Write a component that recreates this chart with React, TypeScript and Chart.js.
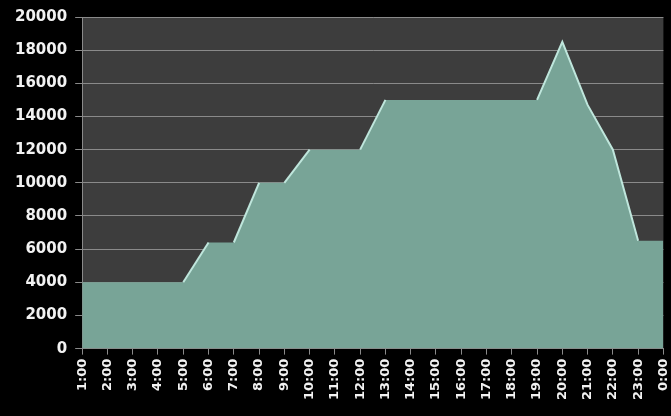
import React, { useEffect, useRef } from "react";
import { Chart, registerables } from "chart.js";

Chart.register(...registerables);

const hours = [
  "1:00", "2:00", "3:00", "4:00", "5:00", "6:00", "7:00", "8:00", "9:00", "10:00",
  "11:00", "12:00", "13:00", "14:00", "15:00", "16:00", "17:00", "18:00", "19:00",
  "20:00", "21:00", "22:00", "23:00", "0:00",
];
const values = [
  4000, 4000, 4000, 4000, 4000, 6400, 6400, 10000, 10000, 12000,
  12000, 12000, 15000, 15000, 15000, 15000, 15000, 15000, 15000,
  18500, 14700, 12000, 6500, 6500,
];
const yMin = 0;
const yMax = 20000;
const yStep = 2000;

const plotBg = {
  id: "plotBg",
  beforeDraw(chart: any) {
    const { ctx, chartArea } = chart;
    if (!chartArea) return;
    ctx.save();
    ctx.fillStyle = "#3d3d3d";
    ctx.fillRect(chartArea.left, chartArea.top, chartArea.right - chartArea.left, chartArea.bottom - chartArea.top);
    ctx.restore();
  },
};

export default function App() {
  const ref = useRef<HTMLCanvasElement>(null);
  useEffect(() => {
    document.body.style.margin = "0";
    document.body.style.background = "#000";
    const font = { family: "DejaVu Sans", weight: "bold" as const };
    const fillColor = "#78a497";
    const edgeColor = "#bfe6dc";
    const chart = new Chart(ref.current!, {
      type: "line",
      data: {
        labels: hours,
        datasets: [
          {
            data: values,
            fill: false,
            borderColor: edgeColor,
            borderWidth: 2,
            pointRadius: 0,
            tension: 0,
            segment: {
              borderColor: (c: any) => (c.p0.parsed.y === c.p1.parsed.y ? "rgba(0,0,0,0)" : edgeColor),
            },
          },
          {
            data: values,
            fill: "origin",
            backgroundColor: fillColor,
            borderColor: fillColor,
            borderWidth: 0,
            pointRadius: 0,
            tension: 0,
          },
        ],
      },
      options: {
        animation: false,
        responsive: false,
        maintainAspectRatio: false,
        layout: { padding: { top: 10, right: 0, left: 7, bottom: 12 } },
        plugins: { legend: { display: false }, tooltip: { enabled: false } },
        scales: {
          x: {
            offset: false,
            grid: { drawOnChartArea: false, drawTicks: true, tickLength: 6, color: "#8a8a8a" },
            border: { color: "#8a8a8a", width: 1 },
            ticks: {
              autoSkip: false,
              maxRotation: 90,
              minRotation: 90,
              color: "#f2f2f2",
              font: { ...font, size: 13 },
              padding: 4,
            },
          },
          y: {
            min: yMin,
            max: yMax,
            grid: { color: "#8a8a8a", tickLength: 7, lineWidth: 1 },
            border: { color: "#8a8a8a", width: 1 },
            ticks: {
              stepSize: yStep,
              color: "#f2f2f2",
              font: { ...font, size: 15 },
              padding: 8,
              callback: (v: any) => String(v),
            },
          },
        },
      },
      plugins: [plotBg],
    });
    return () => chart.destroy();
  }, []);
  return (
    <div style={{ width: 671, height: 416, background: "#000", overflow: "hidden" }}>
      <canvas ref={ref} width={683} height={416} style={{ display: "block" }} />
    </div>
  );
}
